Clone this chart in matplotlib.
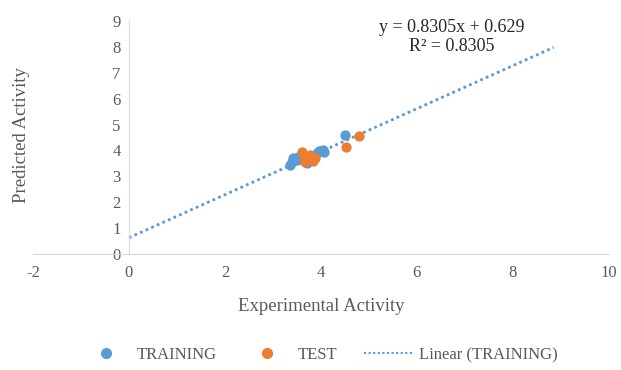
import numpy as np
import matplotlib.pyplot as plt
from matplotlib.lines import Line2D

# data
train_x = [3.35, 3.40, 3.42, 3.50, 3.53, 3.70, 3.85, 3.91, 3.97, 4.05, 4.07, 4.50]
train_y = [3.42, 3.55, 3.69, 3.62, 3.76, 3.50, 3.75, 3.89, 3.98, 4.02, 3.95, 4.60]
test_x = [3.60, 3.66, 3.67, 3.77, 3.84, 3.88, 4.52, 4.80]
test_y = [3.95, 3.72, 3.56, 3.82, 3.60, 3.70, 4.15, 4.55]

slope = 0.8305
intercept = 0.629
r2 = 0.8305
trend_x = [0, 8.85]

blue = '#5B9BD5'
orange = '#ED7D31'
grey = '#595959'

plt.rcParams['font.family'] = ['Liberation Serif', 'DejaVu Serif']
plt.rcParams['axes.unicode_minus'] = False

fig = plt.figure(figsize=(6.21, 3.70), dpi=100)
ax = fig.add_axes([0.053, 0.3135, 0.9275, 0.63])

tx = np.array(trend_x)
ax.plot(tx, slope * tx + intercept, linestyle=(0, (1, 1.2)), color=blue,
        linewidth=2, zorder=2)
ax.scatter(train_x, train_y, s=55, color=blue, zorder=3, linewidths=0)
ax.scatter(test_x, test_y, s=55, color=orange, zorder=4, linewidths=0)

ax.set_xlim(-2, 10)
ax.set_ylim(0, 9)
ax.set_xticks(range(-2, 11, 2))
ax.set_yticks(range(0, 10))

for side in ['top', 'right']:
    ax.spines[side].set_visible(False)
ax.spines['left'].set_position(('data', 0))
ax.spines['left'].set_color('#D9D9D9')
ax.spines['bottom'].set_color('#D9D9D9')
ax.tick_params(axis='both', length=0, labelsize=12, labelcolor=grey)
ax.tick_params(axis='x', pad=8)
ax.tick_params(axis='y', pad=6)

fig.text(0.518, 0.172, 'Experimental Activity', ha='center', va='center',
         fontsize=13.5, color=grey)
fig.text(0.034, 0.635, 'Predicted Activity', ha='center', va='center',
         rotation=90, fontsize=13.5, color=grey)

fig.text(0.728, 0.90, 'y = 0.8305x + 0.629\nR\u00b2 = 0.%s' % str(r2).split('.')[1],
         ha='center', va='center', fontsize=13, color='#262626', linespacing=1.15)

handles = [
    Line2D([], [], marker='o', linestyle='none', color=blue, markersize=7),
    Line2D([], [], marker='o', linestyle='none', color=orange, markersize=7),
    Line2D([], [], linestyle=(0, (1, 1.2)), color=blue, linewidth=1.5),
]
fig.legend(handles, ['TRAINING', 'TEST', 'Linear (TRAINING)'], loc='center',
           bbox_to_anchor=(0.515, 0.04), ncol=3, frameon=False, fontsize=12,
           labelcolor=grey, handlelength=2.9, columnspacing=1.6, handletextpad=0.4)

fig.savefig('out.png', dpi=100)
